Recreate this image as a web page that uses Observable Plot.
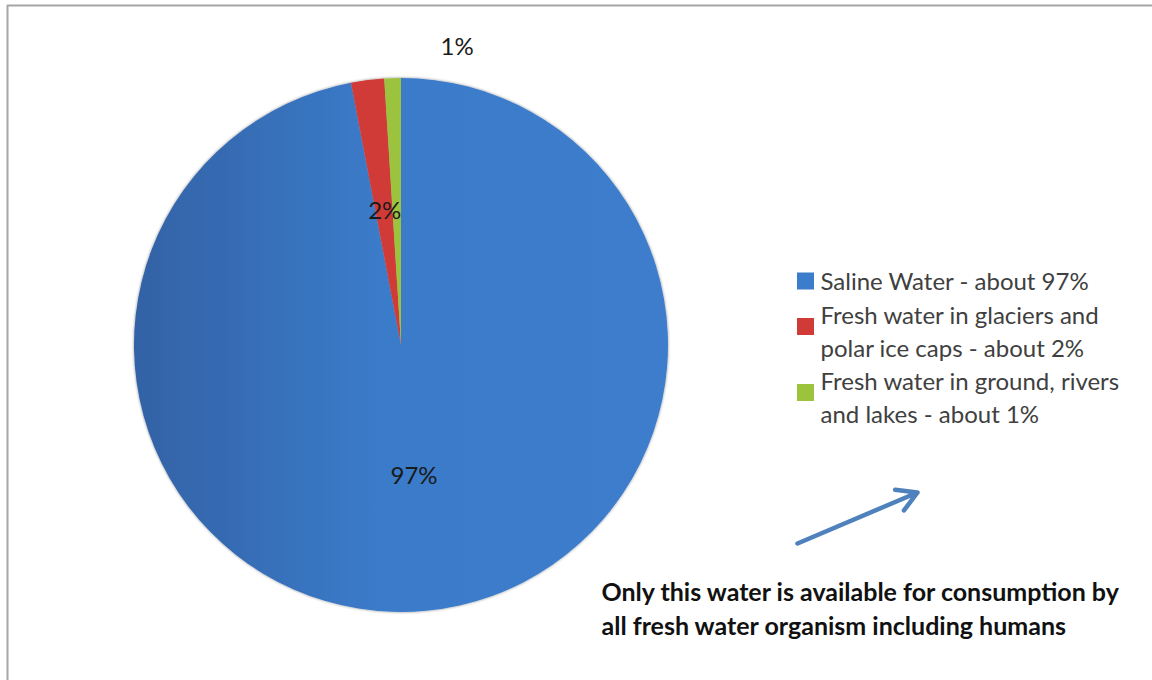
<!DOCTYPE html>
<html>
<head>
<meta charset="utf-8">
<script src="https://cdn.jsdelivr.net/npm/d3@7"></script>
<script src="https://cdn.jsdelivr.net/npm/@observablehq/plot@0.6"></script>
<style>
  html, body { margin: 0; padding: 0; background: #fff; overflow: hidden; }
  #chart svg { display: block; }
</style>
</head>
<body>
<div id="chart"></div>
<script>
// ---- data ----
const categories = ["Saline Water", "Fresh water in glaciers and polar ice caps", "Fresh water in ground, rivers and lakes"];
const values = [97, 2, 1];
const sliceLabels = ["97%", "2%", "1%"];
const legendLabels = [
  "Saline Water - about 97%",
  "Fresh water in glaciers and\npolar ice caps - about 2%",
  "Fresh water in ground, rivers\nand lakes - about 1%"
];
const colors = ["#3c7dcb", "#d03b37", "#9bc33c"];
const noteText = "Only this water is available for consumption by\nall fresh water organism including humans";

// ---- layout ----
const W = 1152, H = 680;
const cx = 401, cy = 345, R = 267;
const FONT = "Lato, 'Open Sans', sans-serif";

const data = categories.map((c, i) => ({category: c, value: values[i], label: sliceLabels[i], legend: legendLabels[i], color: colors[i]}));
const arcs = d3.pie().sort(null).value(d => d.value)(data);

// label positions derived from slice angles
const labelPos = arcs.map(a => {
  const mid = (a.startAngle + a.endAngle) / 2;
  const outside = a.data.value < 1.5;
  const d = outside ? R * 1.11 : R * 0.5;
  return {
    label: a.data.label,
    x: cx + d * Math.sin(mid) + (outside ? 65 : 0),
    y: cy - d * Math.cos(mid) - 2
  };
});

// legend rows
const legendX = 797, legendTop = 279, sw = 17, lh = 33;
const legendRows = [];
let yy = legendTop;
data.forEach((d, i) => {
  const lines = d.legend.split("\n").length;
  const center = yy + (lines - 1) * lh / 2;
  legendRows.push({...d, y: center, ys: lines > 1 ? center - 3 : center + 2});
  yy += lines * lh + (i === 0 ? 1 : 0);
});

// border path (top and left edges only)
const border = [{x: 7, y: H}, {x: 7, y: 5}, {x: W, y: 5}];

function pieMark(index, scales, values, dimensions, context) {
  const g = d3.create("svg:g");
  const defs = g.append("defs");
  const rPx = scales.x(cx + R) - scales.x(cx);
  const grad = defs.append("linearGradient").attr("id", "blueGrad")
    .attr("gradientUnits", "userSpaceOnUse")
    .attr("x1", -rPx).attr("x2", rPx).attr("y1", 0).attr("y2", 0);
  grad.append("stop").attr("offset", "0%").attr("stop-color", "#3362a5");
  grad.append("stop").attr("offset", "46%").attr("stop-color", "#3b7bca");
  grad.append("stop").attr("offset", "100%").attr("stop-color", "#3c7dcc");
  const filt = defs.append("filter").attr("id", "shadow").attr("x", "-10%").attr("y", "-10%").attr("width", "120%").attr("height", "120%");
  filt.append("feGaussianBlur").attr("in", "SourceAlpha").attr("stdDeviation", 1.5).attr("result", "b");
  filt.append("feComponentTransfer").attr("in", "b").attr("result", "s")
    .append("feFuncA").attr("type", "linear").attr("slope", 0.45);
  const m = filt.append("feMerge");
  m.append("feMergeNode").attr("in", "s");
  m.append("feMergeNode").attr("in", "SourceGraphic");

  const arc = d3.arc().innerRadius(0).outerRadius(rPx);
  const pg = g.append("g")
    .attr("transform", `translate(${scales.x(cx)},${scales.y(cy)})`)
    .attr("filter", "url(#shadow)");
  pg.selectAll("path").data(arcs).join("path")
    .attr("d", arc)
    .attr("fill", (d, i) => i === 0 ? "url(#blueGrad)" : d.data.color);
  return g.node();
}

const chart = Plot.plot({
  width: W,
  height: H,
  margin: 0,
  x: {domain: [0, W], range: [0, W], axis: null},
  y: {domain: [0, H], range: [0, H], axis: null},
  style: {background: "#fff", overflow: "hidden"},
  marks: [
    Plot.line(border, {x: "x", y: "y", stroke: "#a6a6a6", strokeWidth: 2}),
    pieMark,
    Plot.text(labelPos, {x: "x", y: "y", text: "label", fontSize: 24, fill: "#1a1a1a", fontFamily: FONT}),
    // legend swatches
    Plot.rect(legendRows, {
      x1: legendX, x2: legendX + sw,
      y1: d => d.ys - sw / 2, y2: d => d.ys + sw / 2,
      fill: "color"
    }),
    Plot.text(legendRows, {
      x: legendX + 23, y: "y", text: "legend", textAnchor: "start",
      lineHeight: lh / 24, fontSize: 24, fill: "#404040", fontFamily: FONT
    }),
    // annotation arrow and note
    Plot.arrow([{x1: 797, y1: 543, x2: 917, y2: 492}], {
      x1: "x1", y1: "y1", x2: "x2", y2: "y2",
      stroke: "#4f81bd", strokeWidth: 4.5, headLength: 7.5, bend: 0
    }),
    Plot.text([noteText], {
      x: 601, y: 607, text: d => d, textAnchor: "start",
      lineHeight: 34 / 25, fontSize: 25, fontWeight: "bold", fill: "#111", fontFamily: FONT
    })
  ]
});

document.getElementById("chart").appendChild(chart);
</script>
</body>
</html>
